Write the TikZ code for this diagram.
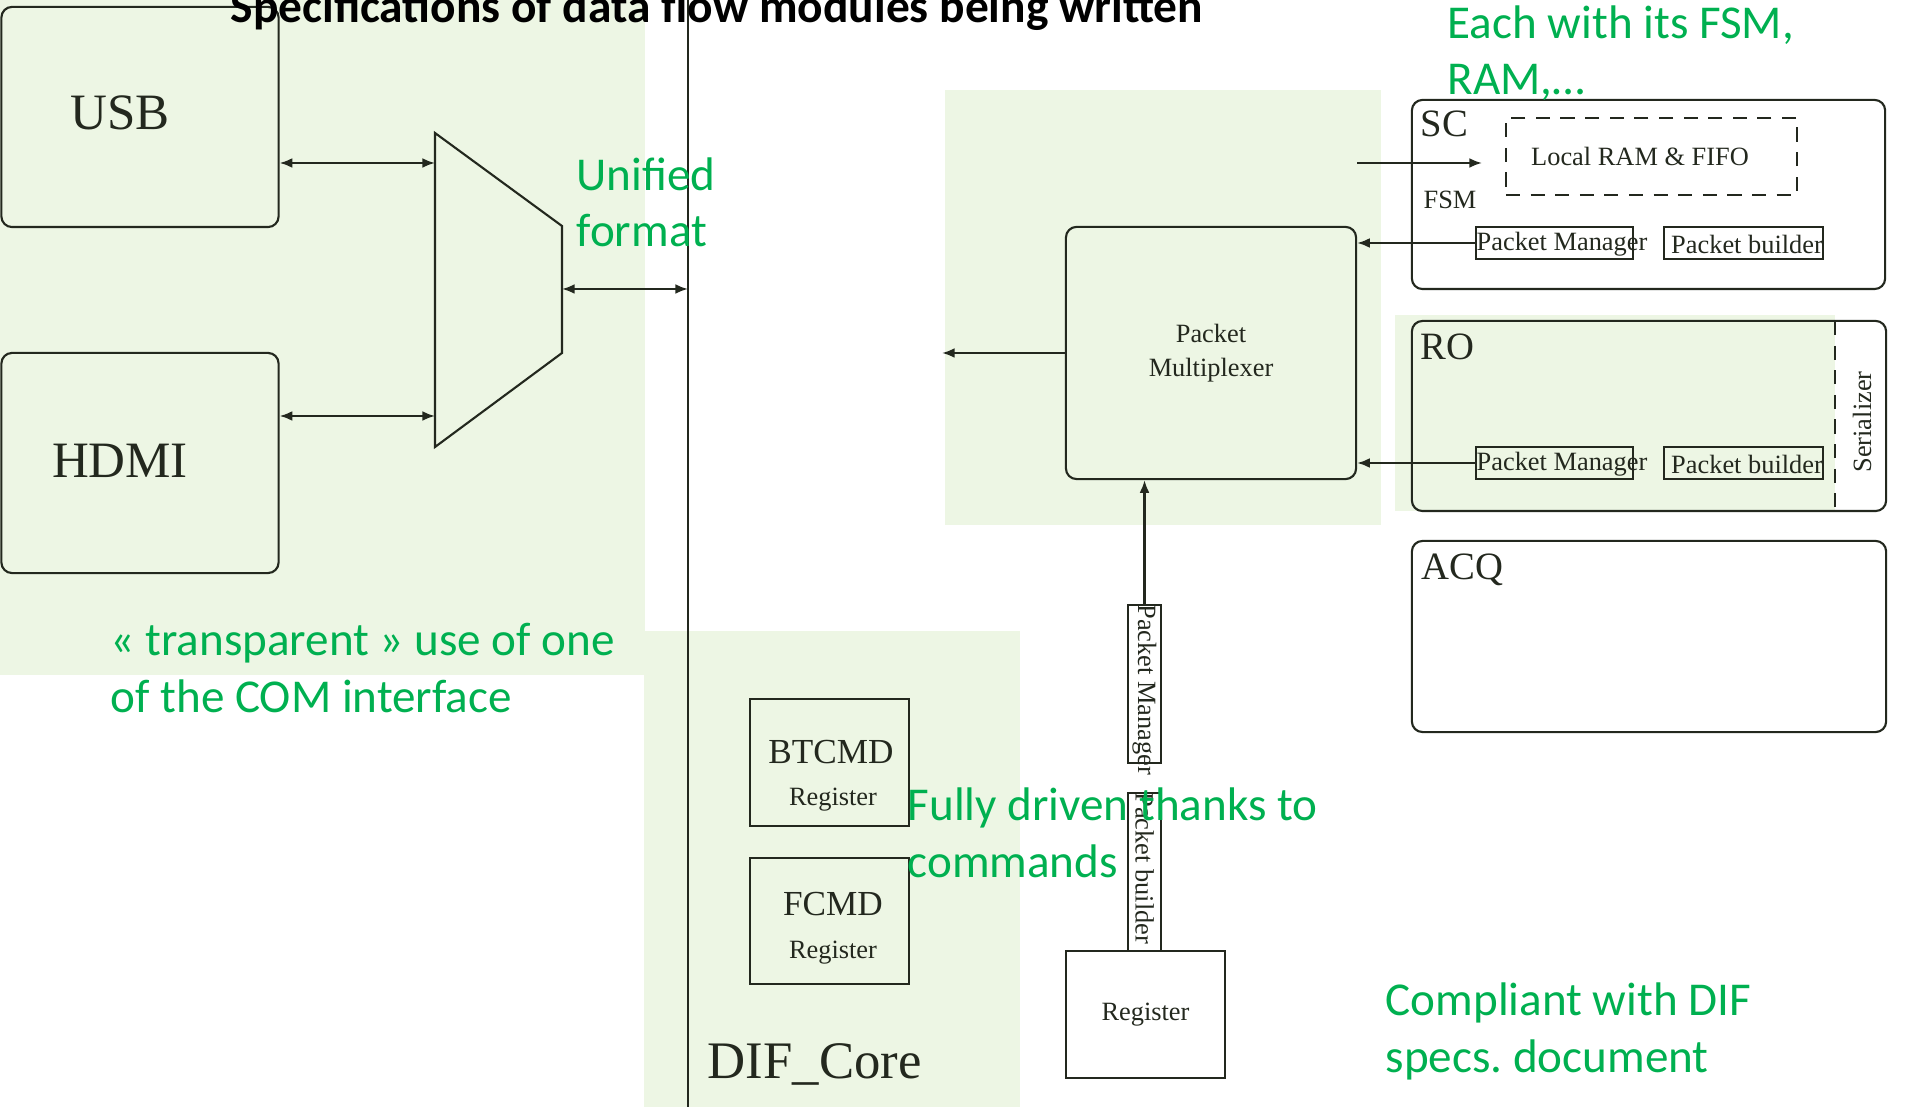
\documentclass[tikz,border=0pt]{standalone}
\usepackage{fontspec}
\setmainfont{Liberation Serif}
\newfontfamily\notefont{Carlito}
\usetikzlibrary{arrows.meta,calc}
\definecolor{bggreen}{RGB}{237,246,228}
\definecolor{notegreen}{RGB}{0,176,80}
\definecolor{ink}{RGB}{35,40,30}
\tikzset{
  blk/.style={draw=ink, line width=0.6pt, rounded corners=3pt, inner sep=0pt},
  regbox/.style={draw=ink, line width=0.6pt, inner sep=0pt},
  lbl/.style={font=\fontsize{7.5}{9.6}\selectfont, text=ink, inner sep=0pt, align=center},
  modlbl/.style={font=\fontsize{11}{13}\selectfont, text=ink, inner sep=0pt},
  biglbl/.style={font=\fontsize{14.5}{17}\selectfont, text=ink, inner sep=0pt},
  flow/.style={-{Latex[length=3.6pt,width=2.8pt]}, line width=0.6pt, draw=ink},
  biflow/.style={{Latex[length=3.6pt,width=2.8pt]}-{Latex[length=3.6pt,width=2.8pt]}, line width=0.6pt, draw=ink},
  note/.style={font=\notefont\fontsize{13.4}{16.2}\selectfont, text=notegreen, align=left, inner sep=0pt}
}

\begin{document}
\begin{tikzpicture}[x=0.01cm,y=-0.01cm]
\useasboundingbox (0,0) rectangle (1913,1107);

% Shaded groups
\fill[bggreen] (0,0) rectangle (645,675);
\fill[bggreen] (644,631) rectangle (1020,1107);
\fill[bggreen] (945,90) rectangle (1381,525);
\fill[bggreen] (1395,315) rectangle (1835,511);

% COM interfaces and their mux
\node[blk, minimum width=2.77cm, minimum height=2.20cm] (usb) at (140,117) {};
\node[biglbl] at (120,113) {USB};
\node[blk, minimum width=2.77cm, minimum height=2.20cm] (hdmi) at (140,463) {};
\node[biglbl] at (120,461) {HDMI};

\coordinate (mxa) at (435,133);
\coordinate (mxb) at (562,226);
\coordinate (mxc) at (562,353);
\coordinate (mxd) at (435,447);
\draw[ink, line width=0.6pt] (mxa) -- (mxb) -- (mxc) -- (mxd) -- cycle;

\coordinate (muxinA) at (435,163);
\coordinate (muxinB) at (435,416);
\coordinate (muxout) at (562,289);
\coordinate (bustop) at (688,0);
\coordinate (busbot) at (688,1107);
\draw[ink, line width=0.8pt] (bustop) -- (busbot);

\draw[biflow] (muxinA -| usb.east) -- (muxinA);
\draw[biflow] (muxinB -| hdmi.east) -- (muxinB);
\draw[biflow] (muxout) -- (muxout -| bustop);

% DIF core registers
\node[regbox, minimum width=1.59cm, minimum height=1.27cm] (btcmd) at (829.5,762.5) {};
\node[modlbl, font=\fontsize{10}{12}\selectfont, anchor=base] at (831,763) {BTCMD};
\node[lbl, anchor=base] at (833,805) {Register};
\node[regbox, minimum width=1.59cm, minimum height=1.26cm] (fcmd) at (829.5,921) {};
\node[modlbl, font=\fontsize{10}{12}\selectfont, anchor=base] at (833,915) {FCMD};
\node[lbl, anchor=base] at (833,958) {Register};
\node[biglbl, font=\fontsize{15}{18}\selectfont, anchor=base west] at (707,1078) {DIF\_Core};

% Packet multiplexer
\node[blk, lbl, minimum width=2.90cm, minimum height=2.52cm] (pmux) at (1211,353) {Packet\\Multiplexer};
\coordinate (muxleft) at (942,353);
\draw[flow] (pmux.west) -- (muxleft);

% Command path below the multiplexer
\node[regbox, minimum width=0.33cm, minimum height=1.58cm] (pmv) at (1144.5,684) {};
\node[lbl, rotate=-90, anchor=west] at (pmv.north) {Packet Manager};
\node[regbox, minimum width=0.33cm, minimum height=1.58cm] (pbv) at (1144.5,872) {};
\node[lbl, rotate=-90, anchor=west] at (pbv.north) {Packet builder};
\node[regbox, lbl, minimum width=1.59cm, minimum height=1.27cm] (reg) at (1145.5,1014.5) {Register};
\draw[flow] (pmv.north) -- (pmv.north |- pmux.south);

% SC module
\node[blk, minimum width=4.73cm, minimum height=1.89cm] (sc) at (1648.5,194.5) {};
\node[modlbl, anchor=base west] at (1420,137) {SC};
\node[regbox, dash pattern=on 4pt off 3pt, minimum width=2.91cm, minimum height=0.77cm] (ram) at (1651.5,156.5) {};
\node[lbl] at (1640,156) {Local RAM \& FIFO};
\node[lbl] at (1450,200) {FSM};
\node[regbox, minimum width=1.57cm, minimum height=0.32cm] (scpm) at (1554.5,243) {};
\node[lbl] at (1562,244) {Packet Manager};
\node[regbox, minimum width=1.59cm, minimum height=0.32cm] (scpb) at (1743.5,243) {};
\node[lbl] at (1747,244) {Packet builder};
\coordinate (fsmtip) at (1482,163);
\draw[flow] (pmux.east |- fsmtip) -- (fsmtip);
\draw[flow] (scpm.west) -- (scpm.west -| pmux.east);

% RO module
\node[blk, minimum width=4.74cm, minimum height=1.90cm] (ro) at (1649,416) {};
\node[modlbl, anchor=base west] at (1420,360) {RO};
\draw[ink, line width=0.6pt, dash pattern=on 4pt off 3pt] (1835,321) -- (1835,511);
\node[lbl, rotate=90] at (1862,422) {Serializer};
\node[regbox, minimum width=1.57cm, minimum height=0.32cm] (ropm) at (1554.5,463) {};
\node[lbl] at (1562,464) {Packet Manager};
\node[regbox, minimum width=1.59cm, minimum height=0.32cm] (ropb) at (1743.5,463) {};
\node[lbl] at (1747,464) {Packet builder};
\draw[flow] (ropm.west) -- (ropm.west -| pmux.east);

% ACQ module
\node[blk, minimum width=4.74cm, minimum height=1.91cm] (acq) at (1649,636.5) {};
\node[modlbl, anchor=base west] at (1421,580) {ACQ};

% Comments in green (base = last line)
\node[note, anchor=base west] (unif) at (576,247) {Unified\\format};
\node[note, anchor=base west] (transp) at (110,712) {« transparent » use of one\\of the COM interface};
\node[note, anchor=base west] (driven) at (907,877) {Fully driven thanks to\\commands};
\node[note, anchor=base west] (dif) at (1385,1072) {Compliant with DIF\\specs.\ document};
\node[note, anchor=base west] (each) at (1447,95) {Each with its FSM,\\RAM,…};

% Slide title
\node[font=\notefont\bfseries\fontsize{13.5}{16}\selectfont, anchor=base west, inner sep=0pt] (ttl) at (230,23) {Specifications of data flow modules being written};

\end{tikzpicture}
\end{document}
